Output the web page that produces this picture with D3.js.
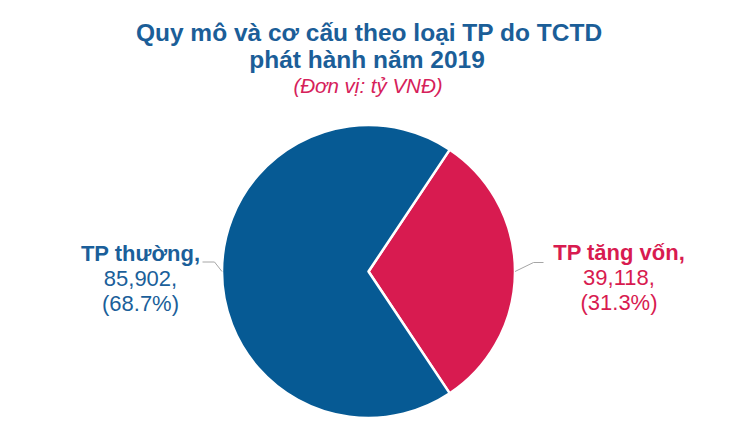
<!DOCTYPE html>
<html><head><meta charset="utf-8">
<script src="https://cdn.jsdelivr.net/npm/d3@7"></script>
<style>html,body{margin:0;padding:0;background:#fff}svg{display:block}</style>
</head><body>
<script>
const titleLines = ["Quy mô và cơ cấu theo loại TP do TCTD", "phát hành năm 2019"];
const subtitle = "(Đơn vị: tỷ VNĐ)";
const categories = ["TP tăng vốn", "TP thường"];
const values = [39118, 85902];
const colors = ["#d81b50", "#065a94"];
const labelColors = ["#d81b50", "#1b5f9a"];

const W = 735, H = 441;
const cx = 368.5, cy = 271.5, R = 146.5;
const svg = d3.select("body").append("svg").attr("width", W).attr("height", H);
const font = "Liberation Sans, Arial, sans-serif";

svg.append("text").attr("x", 369).attr("y", 41).attr("text-anchor", "middle")
  .attr("font-family", font).attr("font-weight", "bold").attr("font-size", 24.5)
  .attr("fill", "#1b5e98").text(titleLines[0]);
svg.append("text").attr("x", 367).attr("y", 68).attr("text-anchor", "middle")
  .attr("font-family", font).attr("font-weight", "bold").attr("font-size", 24.5)
  .attr("fill", "#1b5e98").text(titleLines[1]);
svg.append("text").attr("x", 368).attr("y", 93).attr("text-anchor", "middle")
  .attr("font-family", font).attr("font-style", "italic").attr("font-size", 20.5)
  .attr("fill", "#d6215a").text(subtitle);

const total = d3.sum(values);
const redSpan = values[0] / total * 2 * Math.PI;
const start = Math.PI / 2 - redSpan / 2;
const pie = d3.pie().sort(null).startAngle(start).endAngle(start + 2 * Math.PI);
const arcs = pie(values);
const arc = d3.arc().innerRadius(0).outerRadius(R);
const g = svg.append("g").attr("transform", `translate(${cx},${cy})`);
g.selectAll("path").data(arcs).enter().append("path")
  .attr("d", arc).attr("fill", (d, i) => colors[i])
  .attr("stroke", "#fff").attr("stroke-width", 2.5).attr("stroke-linejoin", "round");

// leader lines
const fmt = d3.format(",");
const pct = d3.format(".1%");
const labelPos = [{x: 619, y: 260, elbow: [165, -9], end: [175, -9]},
                  {x: 140.5, y: 261, elbow: [-154, -9.5], end: [-166, -9.5]}];
arcs.forEach((d, i) => {
  const mid = (d.startAngle + d.endAngle) / 2;
  const p0 = d3.pointRadial(mid, R);
  const lp = labelPos[i];
  g.append("polyline")
    .attr("points", [p0, lp.elbow, lp.end].map(p => p.join(",")).join(" "))
    .attr("fill", "none").attr("stroke", "#a6a6a6").attr("stroke-width", 1);
  const t = svg.append("text").attr("x", lp.x).attr("y", lp.y).attr("text-anchor", "middle")
    .attr("font-family", font).attr("font-size", 22).attr("fill", labelColors[i]);
  t.append("tspan").attr("x", lp.x).attr("font-weight", "bold").text(categories[i] + ",");
  t.append("tspan").attr("x", lp.x).attr("dy", 25).text(fmt(values[i]) + ",");
  t.append("tspan").attr("x", lp.x).attr("dy", 25).text("(" + pct(values[i] / total) + ")");
});
</script>
</body></html>
